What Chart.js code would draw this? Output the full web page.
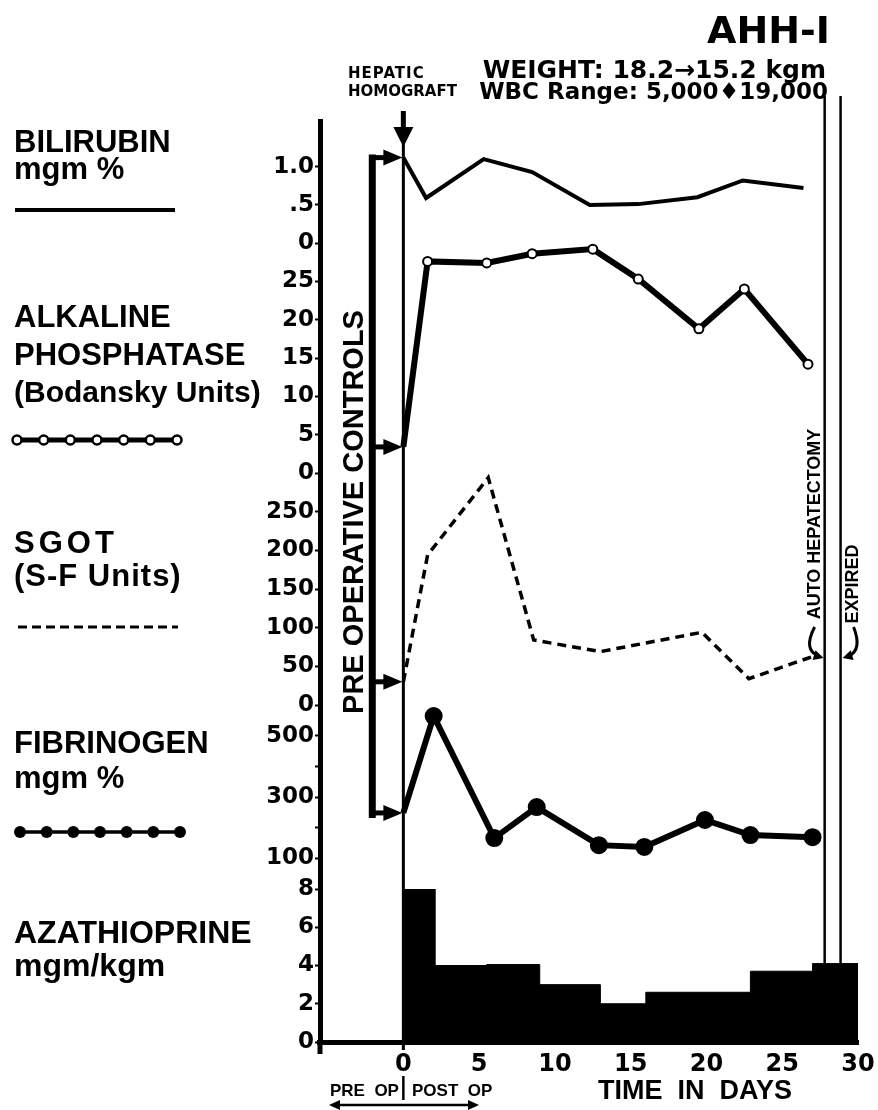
<!DOCTYPE html>
<html>
<head>
<meta charset="utf-8">
<title>AHH-1</title>
<script src="https://cdn.jsdelivr.net/npm/chart.js@4.4.1/dist/chart.umd.min.js"></script>
<style>
  html, body { margin: 0; padding: 0; background: #fff; }
  canvas { display: block; }
</style>
</head>
<body>
<canvas id="ahhChart" width="878" height="1110"></canvas>
<script>
// values, x = days after the homograft
const biliDays = [0, 1.5, 5.3, 8.5, 12.3, 15.5, 19.4, 22.4, 26.4];
const biliValues = [1.12, 0.59, 1.10, 0.93, 0.50, 0.51, 0.60, 0.82, 0.72];

const alkDays = [0, 1.6, 5.5, 8.5, 12.5, 15.5, 19.5, 22.5, 26.7];
const alkValues = [3.4, 27.6, 27.4, 28.6, 29.2, 25.3, 18.8, 24.0, 14.2];

const sgotDays = [0, 1.6, 5.6, 8.6, 13.0, 19.7, 22.8, 26.9];
const sgotValues = [30, 194, 294, 84, 69, 94, 34, 62];

const fibDays = [0, 2.0, 6.0, 8.8, 12.9, 15.9, 19.9, 22.9, 27.0];
const fibValues = [248, 564, 166, 267, 143, 137, 225, 176, 169];

const azaDays = [0, 2.1, 5.5, 9.0, 13.0, 16.0, 22.9, 27.0, 30.0];
const azaValues = [8.0, 4.0, 4.05, 3.0, 2.0, 2.6, 3.7, 4.1, 4.1];

// tick labels
const xTicks = [0, 5, 10, 15, 20, 25, 30];
const biliTicks = [0, 0.5, 1.0];
const biliTickLabels = ['0', '.5', '1.0'];
const alkTicks = [0, 5, 10, 15, 20, 25];
const sgotTicks = [0, 50, 100, 150, 200, 250];
const fibTicks = [100, 200, 300, 400, 500];
const fibTickLabels = ['100', '', '300', '', '500'];
const azaTicks = [0, 2, 4, 6, 8];

// events (days)
const homograftDay = 0;
const preOpDay = -2.05;
const autoHepatectomyDay = 27.8;
const expiredDay = 28.85;

const toPoints = (days, vals) => days.map((d, i) => ({ x: d, y: vals[i] }));

const tickFontY = { family: 'DejaVu Sans', size: 23, weight: 'bold' };
const tickFontX = { family: 'DejaVu Sans', size: 24, weight: 'bold' };

function panelAxis(min, max, weight, ticks, labels) {
    return {
        type: 'linear',
        position: 'left',
        stack: 'panels',
        stackWeight: weight,
        min: min,
        max: max,
        afterBuildTicks: axis => { axis.ticks = ticks.map(v => ({ value: v })); },
        afterFit: axis => { axis.width = 52; },
        border: { display: true, color: '#000', width: 5 },
        grid: { drawOnChartArea: false, color: '#000', tickLength: 5, tickWidth: 2 },
        ticks: {
            color: '#000',
            padding: 1,
            autoSkip: false,
            font: tickFontY,
            callback: (v, i) => labels ? labels[i] : String(v)
        }
    };
}

function seg(ctx, x1, y1, x2, y2, w) {
    ctx.lineWidth = w;
    ctx.beginPath();
    ctx.moveTo(x1, y1);
    ctx.lineTo(x2, y2);
    ctx.stroke();
}

function arrowHead(ctx, tipX, tipY, dx, dy, len, half) {
    const n = Math.hypot(dx, dy);
    dx /= n; dy /= n;
    ctx.beginPath();
    ctx.moveTo(tipX, tipY);
    ctx.lineTo(tipX - dx * len - dy * half, tipY - dy * len + dx * half);
    ctx.lineTo(tipX - dx * len + dy * half, tipY - dy * len - dx * half);
    ctx.closePath();
    ctx.fill();
}

function text(ctx, str, x, y, font, align, spacing) {
    ctx.font = font;
    ctx.textAlign = align || 'left';
    ctx.textBaseline = 'alphabetic';
    if ('letterSpacing' in ctx) ctx.letterSpacing = spacing || '0px';
    ctx.fillText(str, x, y);
    if ('letterSpacing' in ctx) ctx.letterSpacing = '0px';
}

function vtext(ctx, str, cx, cy, font) {
    ctx.save();
    ctx.translate(cx, cy);
    ctx.rotate(-Math.PI / 2);
    ctx.font = font;
    ctx.textAlign = 'center';
    ctx.textBaseline = 'middle';
    ctx.fillText(str, 0, 0);
    ctx.restore();
}

const labelFont = 'bold 31px "Liberation Sans"';

const chartNotes = {
    id: 'chartNotes',
    beforeDraw(chart) {
        const ctx = chart.ctx;
        ctx.save();
        ctx.fillStyle = '#fff';
        ctx.fillRect(0, 0, chart.width, chart.height);
        ctx.restore();
    },
    afterDraw(chart) {
        const ctx = chart.ctx;
        const xs = chart.scales.x;
        const area = chart.chartArea;
        ctx.save();
        ctx.fillStyle = '#000';
        ctx.strokeStyle = '#000';

        // axis stubs below the time axis
        seg(ctx, area.left, area.bottom, area.left, area.bottom + 12, 5);

        // hepatic homograft marker
        const hx = xs.getPixelForValue(homograftDay);
        seg(ctx, hx, 144, hx, area.bottom + 8, 3);
        seg(ctx, hx, 111, hx, 130, 5);
        arrowHead(ctx, hx, 147, 0, 1, 20, 10);
        text(ctx, 'HEPATIC', 348, 78, 'bold 15px "DejaVu Sans"', 'left', '1px');
        text(ctx, 'HOMOGRAFT', 348, 96, 'bold 15px "DejaVu Sans"');

        // auto hepatectomy and expired lines
        const ax = xs.getPixelForValue(autoHepatectomyDay);
        const ex = xs.getPixelForValue(expiredDay);
        seg(ctx, ax, 96, ax, area.bottom, 2.5);
        seg(ctx, ex, 96, ex, area.bottom, 2.5);
        vtext(ctx, 'AUTO HEPATECTOMY', ax - 10, 524, 'bold 18px "Liberation Sans"');
        vtext(ctx, 'EXPIRED', ex + 12, 584, 'bold 18px "Liberation Sans"');
        ctx.lineWidth = 3;
        ctx.beginPath();
        ctx.moveTo(ax - 10, 627);
        ctx.quadraticCurveTo(ax - 22, 650, ax - 6, 656);
        ctx.stroke();
        arrowHead(ctx, ax - 1, 658, 1, 0.3, 10, 5);
        ctx.beginPath();
        ctx.moveTo(ex + 13, 627);
        ctx.quadraticCurveTo(ex + 22, 650, ex + 8, 656);
        ctx.stroke();
        arrowHead(ctx, ex + 2, 658, -1, 0.3, 10, 5);

        // pre operative controls bracket
        const bx = xs.getPixelForValue(preOpDay);
        const targets = [
            chart.scales.yBili.getPixelForValue(biliValues[0]),
            chart.scales.yAlk.getPixelForValue(alkValues[0]),
            chart.scales.ySgot.getPixelForValue(sgotValues[0]),
            chart.scales.yFib.getPixelForValue(fibValues[0])
        ];
        seg(ctx, bx, targets[0] - 3, bx, targets[3] + 5, 7);
        targets.forEach(t => {
            seg(ctx, bx, t, hx - 16, t, 5);
            arrowHead(ctx, hx - 1, t, 1, 0, 19, 8);
        });
        vtext(ctx, 'PRE OPERATIVE CONTROLS', bx - 17, 512, 'bold 29px "Liberation Sans"');

        // header
        text(ctx, 'AHH-I', 830, 43, 'bold 38px "DejaVu Sans"', 'right');
        text(ctx, 'WEIGHT: 18.2\u219215.2 kgm', 826, 78, 'bold 25px "DejaVu Sans"', 'right');
        text(ctx, 'WBC Range: 5,000\u266619,000', 828, 99, 'bold 23px "DejaVu Sans"', 'right');

        // left legend labels
        text(ctx, 'BILIRUBIN', 14, 152, labelFont);
        text(ctx, 'mgm %', 14, 179, labelFont);
        seg(ctx, 15, 210, 175, 210, 4);

        text(ctx, 'ALKALINE', 14, 327, labelFont);
        text(ctx, 'PHOSPHATASE', 14, 365, labelFont);
        text(ctx, '(Bodansky Units)', 14, 402, 'bold 30px "Liberation Sans"');
        seg(ctx, 17, 440, 177, 440, 5);
        for (let i = 0; i < 7; i++) {
            const cx = 17 + i * (160 / 6);
            ctx.beginPath();
            ctx.arc(cx, 440, 4.5, 0, Math.PI * 2);
            ctx.fillStyle = '#fff';
            ctx.fill();
            ctx.lineWidth = 2.5;
            ctx.stroke();
        }
        ctx.fillStyle = '#000';

        text(ctx, 'SGOT', 14, 553, labelFont, 'left', '4px');
        text(ctx, '(S-F Units)', 14, 586, labelFont, 'left', '1px');
        ctx.setLineDash([9, 5]);
        seg(ctx, 18, 627, 178, 627, 3);
        ctx.setLineDash([]);

        text(ctx, 'FIBRINOGEN', 14, 753, labelFont);
        text(ctx, 'mgm %', 14, 788, labelFont);
        seg(ctx, 20, 832, 180, 832, 3.5);
        for (let i = 0; i < 7; i++) {
            ctx.beginPath();
            ctx.arc(20 + i * (160 / 6), 832, 6, 0, Math.PI * 2);
            ctx.fill();
        }

        text(ctx, 'AZATHIOPRINE', 14, 943, 'bold 32px "Liberation Sans"');
        text(ctx, 'mgm/kgm', 14, 976, 'bold 32px "Liberation Sans"');

        // bottom notes
        text(ctx, 'PRE  OP', 330, 1096, 'bold 17px "Liberation Sans"');
        text(ctx, 'POST  OP', 412, 1096, 'bold 17px "Liberation Sans"');
        seg(ctx, hx, 1076, hx, 1100, 2.5);
        seg(ctx, 338, 1105, 470, 1105, 2.5);
        arrowHead(ctx, 329, 1105, -1, 0, 11, 5);
        arrowHead(ctx, 479, 1105, 1, 0, 11, 5);
        text(ctx, 'TIME  IN  DAYS', 695, 1099, 'bold 27px "Liberation Sans"', 'center');

        ctx.restore();
    }
};

const canvas = document.getElementById('ahhChart');

new Chart(canvas, {
    type: 'line',
    data: {
        datasets: [
            {
                label: 'Bilirubin',
                data: toPoints(biliDays, biliValues),
                yAxisID: 'yBili',
                borderColor: '#000',
                borderWidth: 4,
                pointRadius: 0,
                tension: 0
            },
            {
                label: 'Alkaline Phosphatase',
                data: toPoints(alkDays, alkValues),
                yAxisID: 'yAlk',
                borderColor: '#000',
                borderWidth: 6,
                pointRadius: ctx => ctx.dataIndex === 0 ? 0 : 4.5,
                pointBackgroundColor: '#fff',
                pointBorderColor: '#000',
                pointBorderWidth: 2,
                tension: 0
            },
            {
                label: 'SGOT',
                data: toPoints(sgotDays, sgotValues),
                yAxisID: 'ySgot',
                borderColor: '#000',
                borderWidth: 3.5,
                borderDash: [9, 6],
                pointRadius: 0,
                tension: 0
            },
            {
                label: 'Fibrinogen',
                data: toPoints(fibDays, fibValues),
                yAxisID: 'yFib',
                borderColor: '#000',
                borderWidth: 6,
                pointRadius: ctx => ctx.dataIndex === 0 ? 0 : 6,
                pointBackgroundColor: '#000',
                pointBorderColor: '#000',
                tension: 0
            },
            {
                label: 'Azathioprine',
                data: toPoints(azaDays, azaValues),
                yAxisID: 'yAza',
                stepped: 'before',
                fill: 'origin',
                backgroundColor: '#000',
                borderColor: '#000',
                borderWidth: 1,
                pointRadius: 0
            }
        ]
    },
    options: {
        responsive: false,
        devicePixelRatio: 1,
        animation: false,
        layout: { padding: { left: 268, top: 121, right: 20, bottom: 0 } },
        plugins: {
            legend: { display: false },
            tooltip: { enabled: false }
        },
        scales: {
            x: {
                type: 'linear',
                position: 'bottom',
                min: -5.5,
                max: 30,
                afterBuildTicks: axis => { axis.ticks = xTicks.map(v => ({ value: v })); },
                afterFit: axis => {
                    axis.height = 68;
                    axis.paddingLeft = 0;
                    axis.paddingRight = 0;
                },
                border: { display: true, color: '#000', width: 5 },
                grid: { drawOnChartArea: false, drawTicks: false },
                ticks: { color: '#000', padding: 8, font: tickFontX, maxRotation: 0 }
            },
            // bottom panel first: the last stacked axis is placed on top
            yAza: panelAxis(0, 8, 153, azaTicks, null),
            yFib: panelAxis(0, 600, 184, fibTicks, fibTickLabels),
            ySgot: panelAxis(0, 300, 232, sgotTicks, null),
            yAlk: panelAxis(0, 30, 230, alkTicks, null),
            yBili: panelAxis(0, 1.6, 122, biliTicks, biliTickLabels)
        }
    },
    plugins: [chartNotes]
});
</script>
</body>
</html>
